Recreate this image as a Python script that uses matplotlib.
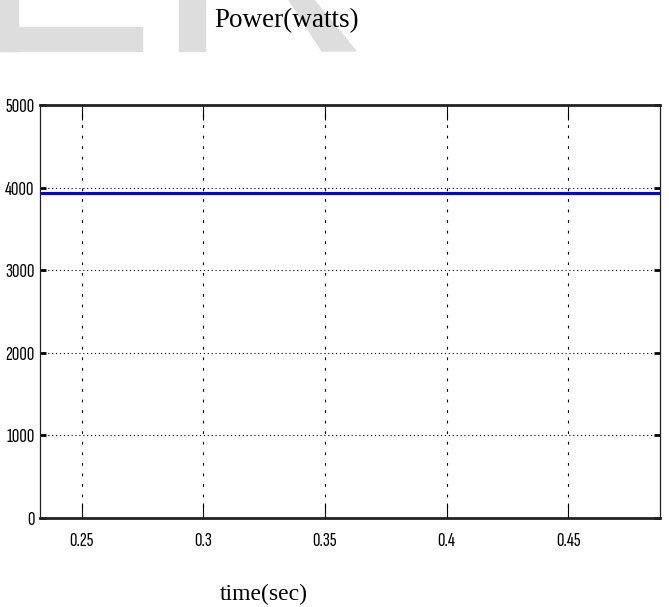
import matplotlib
matplotlib.use("Agg")
import matplotlib.pyplot as plt
from matplotlib.patches import Rectangle, Polygon

# data
time_sec = [0.2329, 0.4877]
power_w = [3930, 3930]
x_ticks = [0.25, 0.3, 0.35, 0.4, 0.45]
x_labels = ["0.25", "0.3", "0.35", "0.4", "0.45"]
y_ticks = [0, 1000, 2000, 3000, 4000, 5000]
y_labels = ["0", "1000", "2000", "3000", "4000", "5000"]

W, H = 669, 607
fig = plt.figure(figsize=(W / 100, H / 100), dpi=100)

# light grey watermark shapes at top-left
wm = "#dddddd"
def fx(px):
    return px / W
def fy(py):
    return 1 - py / H
fig.patches.append(Rectangle((fx(0), fy(51)), fx(18), 51 / H, color=wm, transform=fig.transFigure, zorder=0))
fig.patches.append(Rectangle((fx(0), fy(51)), fx(142), 24 / H, color=wm, transform=fig.transFigure, zorder=0))
fig.patches.append(Rectangle((fx(179), fy(51)), fx(26), 51 / H, color=wm, transform=fig.transFigure, zorder=0))
fig.patches.append(Polygon([(fx(289), fy(0)), (fx(314), fy(0)), (fx(356), fy(51)), (fx(322), fy(51))],
                           closed=True, color=wm, transform=fig.transFigure, zorder=0))

ax = fig.add_axes([40 / W, 1 - 518 / H, 620 / W, 413 / H])
ax.plot(time_sec, power_w, color="#0000ff", lw=2.2, solid_capstyle="butt")

ax.set_xlim(time_sec[0], time_sec[1])
ax.set_ylim(0, 5000)
ax.set_xticks(x_ticks)
ax.set_xticklabels(x_labels)
ax.set_yticks(y_ticks)
ax.set_yticklabels(y_labels)

# squeezed tick digits like the reference
tick_font = ["Sofia Sans Extra Condensed", "Barlow Condensed", "DejaVu Sans"]
for lab in ax.get_xticklabels() + ax.get_yticklabels():
    lab.set_family(tick_font)
    lab.set_fontsize(15)
    lab.set_color("black")

ax.tick_params(axis="x", direction="in", length=11, width=0.8, top=True, pad=10)
ax.tick_params(axis="y", direction="in", length=4, width=2, right=True, pad=4)

ax.xaxis.grid(True, color="black", lw=0.8, dashes=(2.5, 7))
ax.yaxis.grid(True, color="black", lw=0.8, dashes=(1, 2.5))

for s in ["top", "bottom"]:
    ax.spines[s].set_linewidth(2.0)
    ax.spines[s].set_color("#222222")
for s in ["left", "right"]:
    ax.spines[s].set_linewidth(0.9)
    ax.spines[s].set_color("#222222")

fig.text(287 / W, fy(21), "Power(watts)", ha="center", va="center",
         family="Liberation Serif", fontsize=19.5)
fig.text(264 / W, fy(594), "time(sec)", ha="center", va="center",
         family="Liberation Serif", fontsize=17)

fig.savefig("out.png", dpi=100)
